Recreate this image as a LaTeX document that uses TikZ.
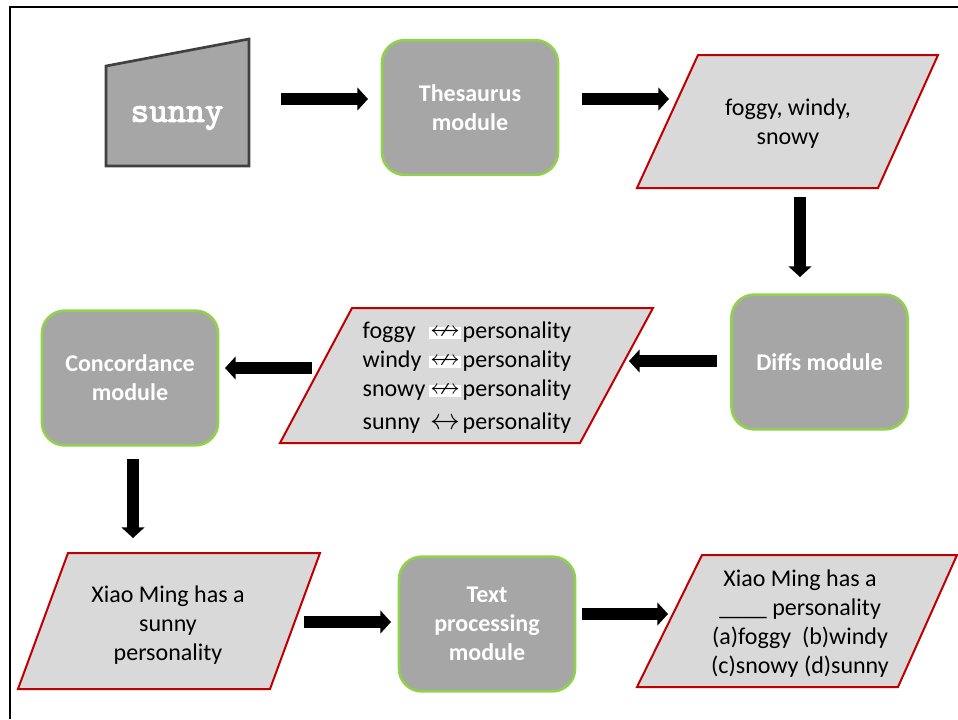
\documentclass[tikz,border=0pt]{standalone}
\usepackage{amssymb}
\usepackage{fontspec}
\setmainfont{Carlito}
\newfontfamily\codefont{lmmono10-regular.otf}[FakeBold=3]
\usetikzlibrary{arrows.meta,calc}

\definecolor{modfill}{HTML}{A6A6A6}
\definecolor{modline}{HTML}{92D050}
\definecolor{iofill}{HTML}{D9D9D9}
\definecolor{ioline}{HTML}{C00000}
\definecolor{inline}{HTML}{404040}

\newcommand{\notrel}{{\setlength{\fboxsep}{0.5pt}\colorbox{white}{\scalebox{1.25}{$\nleftrightarrow$}}}}

\begin{document}
\begin{tikzpicture}[x=0.75pt, y=-0.75pt,
	module/.style={draw=modline, fill=modfill, line width=2pt, rounded corners=17pt,
		minimum width=132pt, minimum height=101pt, align=center, text=white,
		font=\fontsize{18}{21.75}\selectfont\bfseries},
	io/.style={draw=ioline, fill=iofill, line width=1.5pt},
	iotext/.style={align=center, font=\fontsize{18}{21.75}\selectfont},
	flow/.style={line width=9pt, -{Triangle[width=17pt, length=8pt]}}]
	\useasboundingbox (0,0) rectangle (958,719);
	\draw[line width=2pt] (10,719) -- (10,7) -- (958,7);
	
	\draw[fill=modfill, draw=inline, line width=2pt] (106,66) -- (249,39) -- (249,166) -- (106,166) -- cycle;
	\node[text=white, font=\codefont\fontsize{26.5}{30}\selectfont] (sunny) at (177,118) {sunny};
	
	\node[module] (thes) at (470,107.5) {Thesaurus\\module};
	
	\draw[io] (698,55) -- (938,55) -- (878,188) -- (637,188) -- cycle;
	\node[iotext] (words) at (788,124) {foggy, windy,\\snowy};
	
	\node[module] (diffs) at (819.5,362) {Diffs module};
	
	\draw[io] (352,308) -- (653,308) -- (580,443) -- (280,443) -- cycle;
	\node[iotext] (rel) at (467,378) {\begin{tabular}{@{}l@{\hspace{3pt}}c@{\hspace{1.5pt}}l@{}}
		foggy\ & \notrel & personality\\
		windy & \notrel & personality\\
		snowy & \notrel & personality\\[3pt]
		sunny & \scalebox{1.3}{$\leftrightarrow$} & personality
	\end{tabular}};
	
	\node[module] (conc) at (130,378) {Concordance\\module};
	
	\draw[io] (68,553) -- (320,553) -- (270,689) -- (18,689) -- cycle;
	\node[iotext] (sent) at (168,625) {Xiao Ming has a\\sunny\\personality};
	
	\node[module] (proc) at (487,624) {Text\\processing\\module};
	
	\draw[io] (702,555) -- (957,555) -- (898,687) -- (637,687) -- cycle;
	\node[iotext] (quiz) at (800,624) {Xiao Ming has a\\\_\_\_\_ personality\\(a)foggy\ \ (b)windy\\(c)snowy (d)sunny};
	
	\draw[flow] ($(sunny)+(104,-19)$) -- ($(thes)+(-102,-8.5)$);
	\draw[flow] ($(thes)+(112,-8.5)$) -- ($(words)+(-119,-25)$);
	\draw[flow] ($(words)+(12,73)$) -- ($(diffs)+(-19.5,-85)$);
	\draw[flow] ($(diffs)+(-102.5,-1)$) -- ($(rel)+(162,-17)$);
	\draw[flow] ($(rel)+(-155,-10)$) -- ($(conc)+(95,-10)$);
	\draw[flow] ($(conc)+(3,81)$) -- ($(sent)+(-35,-87)$);
	\draw[flow] ($(sent)+(136,-3)$) -- ($(proc)+(-96,-2)$);
	\draw[flow] ($(proc)+(95,-10)$) -- ($(quiz)+(-132,-10)$);
\end{tikzpicture}
\end{document}
